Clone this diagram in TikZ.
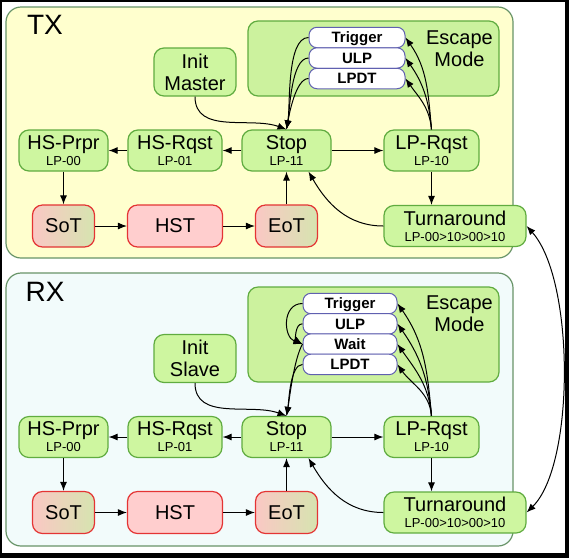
\documentclass[tikz,border=0pt]{standalone}
\usepackage{fontspec}
\setmainfont{Liberation Sans}
\usepackage{tikz}
\usetikzlibrary{shapes.geometric, arrows, arrows.meta}

\definecolor{nodegreen}{RGB}{206,246,160}
\definecolor{edgegreen}{RGB}{96,172,64}
\definecolor{escgreen}{RGB}{204,242,158}
\definecolor{txyellow}{RGB}{255,255,206}
\definecolor{rxcyan}{RGB}{242,251,251}
\definecolor{panelline}{RGB}{104,148,104}
\definecolor{hsred}{RGB}{228,52,52}
\definecolor{hspink}{RGB}{255,206,206}
\definecolor{sotpink}{RGB}{250,200,196}
\definecolor{sottan}{RGB}{214,228,176}
\definecolor{subblue}{RGB}{96,96,176}

\newcommand{\lpstate}[1]{\\[-4pt]{\fontsize{13}{13}\selectfont #1}}

\tikzstyle{panel} = [rounded corners=15pt, draw=panelline, line width=1.2pt]
\tikzstyle{state} = [rectangle, rounded corners=10pt, minimum width=90pt, minimum height=41pt, inner sep=0pt, align=center, draw=edgegreen, line width=1.2pt, fill=nodegreen, font=\fontsize{20}{20}\selectfont]
\tikzstyle{hsstate} = [state, draw=hsred, left color=sotpink, right color=sottan, minimum width=62pt, minimum height=42pt]
\tikzstyle{hst} = [state, draw=hsred, fill=hspink, minimum width=95pt, minimum height=42pt]
\tikzstyle{escbox} = [rectangle, rounded corners=10pt, draw=edgegreen, line width=1.2pt, fill=escgreen, minimum width=251pt]
\tikzstyle{escsub} = [rectangle, rounded corners=8pt, minimum width=96pt, minimum height=20.5pt, inner sep=0pt, text height=10.7pt, text depth=0pt, draw=subblue, line width=1pt, fill=white, font=\fontsize{15}{15}\selectfont\bfseries]
\tikzstyle{label} = [align=center, font=\fontsize{20}{20}\selectfont]
\tikzstyle{arrow} = [line width=1pt, ->, >={Latex[length=9pt,width=7pt]}]

\begin{document}
\begin{tikzpicture}[x=1pt, y=1pt, node distance=111.5pt]
\useasboundingbox (0,0) rectangle (569,-558);
\fill [black] (0,0) rectangle (569,-558);
\fill [white] (2,-2) rectangle (565,-553);

% TX side
\draw [panel, fill=txyellow] (6,-7) rectangle (513,-258);
\node (txlabel) at (45,-25) {\fontsize{28}{28}\selectfont TX};
\node (esctx) [escbox, minimum height=75pt] at (373.5,-58.5) {};
\node (esctxlabel) [label] at (459.5,-49) {Escape\\[2pt]Mode};
\begin{scope}[node distance=20.5pt]
\node (trigtx) [escsub] at (357,-37.5) {Trigger};
\node (ulptx) [escsub, below of=trigtx] {ULP};
\node (lpdttx) [escsub, below of=ulptx] {LPDT};
\end{scope}

\node (stoptx) [state, minimum width=89pt] at (286.5,-150.5) {Stop\lpstate{LP-11}};
\node (hsrqsttx) [state, minimum width=94pt, left of=stoptx] {HS-Rqst\lpstate{LP-01}};
\node (hsprprtx) [state, minimum width=89pt, left of=hsrqsttx] {HS-Prpr\lpstate{LP-00}};
\node (lprqsttx) [state, minimum width=95pt, right of=stoptx, xshift=33.5pt] {LP-Rqst\lpstate{LP-10}};
\node (sottx) [hsstate, below of=hsprprtx, yshift=36pt] {SoT};
\node (hsttx) [hst, below of=hsrqsttx, yshift=36pt] {HST};
\node (eottx) [hsstate, below of=stoptx, yshift=36pt] {EoT};
\node (tatx) [state, minimum width=142pt, below of=lprqsttx, xshift=23.5pt, yshift=36pt] {Turnaround\lpstate{LP-00>10>00>10}};
\node (inittx) [state, minimum width=82pt, minimum height=48pt, above of=hsrqsttx, xshift=20pt, yshift=-33pt] {Init\\[2pt]Master};

\draw [arrow] (stoptx) -- (hsrqsttx);
\draw [arrow] (hsrqsttx) -- (hsprprtx);
\draw [arrow] (hsprprtx) -- (sottx);
\draw [arrow] (sottx) -- (hsttx);
\draw [arrow] (hsttx) -- (eottx);
\draw [arrow] (eottx) -- (stoptx);
\draw [arrow] (stoptx) -- (lprqsttx);
\draw [arrow] (lprqsttx.south) -- (lprqsttx.south |- tatx.north);
\draw [arrow] (inittx.south) to[out=-90, in=160] (stoptx.north);
\draw [arrow] (tatx.west) to[out=180, in=-60] ([xshift=22pt]stoptx.south);
\foreach \s in {trigtx, ulptx, lpdttx} {
  \draw [arrow] (lprqsttx.north) to[out=95, in=-55] (\s.east);
  \draw [arrow] (\s.west) to[out=180, in=80, looseness=0.6] (stoptx.north);
}

% RX side
\draw [panel, fill=rxcyan] (6,-273) rectangle (513,-546);
\node (rxlabel) at (45,-292) {\fontsize{28}{28}\selectfont RX};
\node (escrx) [escbox, minimum height=95pt] at (373.5,-334.5) {};
\node (escrxlabel) [label] at (459.5,-314) {Escape\\[2pt]Mode};
\begin{scope}[node distance=20.3pt]
\node (trigrx) [escsub, minimum width=94pt] at (350,-303.5) {Trigger};
\node (ulprx) [escsub, minimum width=94pt, below of=trigrx] {ULP};
\node (waitrx) [escsub, minimum width=94pt, below of=ulprx] {Wait};
\node (lpdtrx) [escsub, minimum width=94pt, below of=waitrx] {LPDT};
\end{scope}

\node (stoprx) [state, minimum width=89pt] at (286.5,-437) {Stop\lpstate{LP-11}};
\node (hsrqstrx) [state, minimum width=94pt, left of=stoprx] {HS-Rqst\lpstate{LP-01}};
\node (hsprprrx) [state, minimum width=89pt, left of=hsrqstrx] {HS-Prpr\lpstate{LP-00}};
\node (lprqstrx) [state, minimum width=95pt, right of=stoprx, xshift=33.5pt] {LP-Rqst\lpstate{LP-10}};
\node (sotrx) [hsstate, below of=hsprprrx, yshift=36pt] {SoT};
\node (hstrx) [hst, below of=hsrqstrx, yshift=36pt] {HST};
\node (eotrx) [hsstate, below of=stoprx, yshift=36pt] {EoT};
\node (tarx) [state, minimum width=142pt, below of=lprqstrx, xshift=23.5pt, yshift=36pt] {Turnaround\lpstate{LP-00>10>00>10}};
\node (initrx) [state, minimum width=82pt, minimum height=48pt, above of=hsrqstrx, xshift=20pt, yshift=-33pt] {Init\\[2pt]Slave};

\draw [arrow] (stoprx) -- (hsrqstrx);
\draw [arrow] (hsrqstrx) -- (hsprprrx);
\draw [arrow] (hsprprrx) -- (sotrx);
\draw [arrow] (sotrx) -- (hstrx);
\draw [arrow] (hstrx) -- (eotrx);
\draw [arrow] (eotrx) -- (stoprx);
\draw [arrow] (stoprx) -- (lprqstrx);
\draw [arrow] (lprqstrx.south) -- (lprqstrx.south |- tarx.north);
\draw [arrow] (initrx.south) to[out=-90, in=160] (stoprx.north);
\draw [arrow] (tarx.west) to[out=180, in=-60] ([xshift=22pt]stoprx.south);
\foreach \s in {trigrx, ulprx, waitrx, lpdtrx}
  \draw [arrow] (lprqstrx.north) to[out=95, in=-55] (\s.east);
\draw [arrow] (trigrx.west) to[out=180, in=160, looseness=1.3] (waitrx.west);
\draw [arrow] (ulprx.west) to[out=180, in=150] (waitrx.west);
\draw [arrow] (waitrx.west) to[out=240, in=80, looseness=0.6] (stoprx.north);
\draw [arrow] (lpdtrx.west) to[out=180, in=80, looseness=0.6] (stoprx.north);

% turnaround link
\draw [arrow, <->] (tatx.east) .. controls (575,-280) and (575,-465) .. (tarx.east);
\end{tikzpicture}
\end{document}
